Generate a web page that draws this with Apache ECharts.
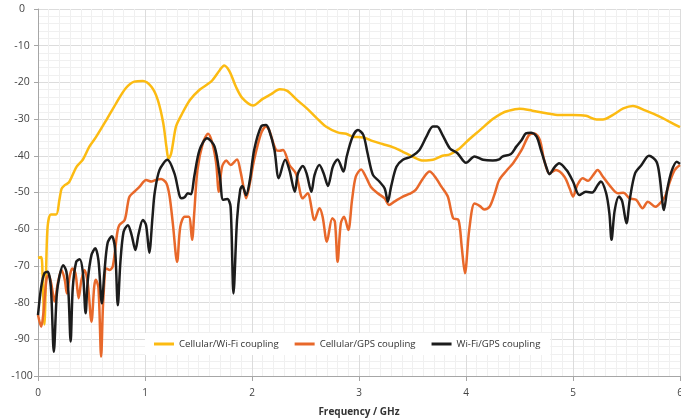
<!DOCTYPE html>
<html>
<head>
<meta charset="utf-8">
<script src="https://cdn.jsdelivr.net/npm/echarts@6/dist/echarts.min.js"></script>
<style>
  html, body { margin: 0; padding: 0; background: #fff; }
  #chart { width: 681px; height: 420px; }
</style>
</head>
<body>
<div id="chart"></div>
<script>
// Coupling curves: [frequency in GHz, level in dB]
const cellularWifi = [
  [0, -67.8], [0.03, -67.6], [0.045, -75], [0.06, -86], [0.075, -72], [0.09, -59.3], [0.12, -56],
  [0.17, -56], [0.2, -52], [0.22, -49], [0.25, -48], [0.29, -47.2], [0.36, -43], [0.42, -41],
  [0.48, -37.5], [0.54, -35], [0.64, -30.2], [0.73, -25.7], [0.82, -21.6], [0.9, -19.8],
  [0.98, -19.6], [1.06, -21.2], [1.12, -24.8], [1.17, -31], [1.2, -37.5], [1.22, -40.8],
  [1.245, -39.3], [1.29, -32], [1.34, -28.9], [1.42, -24.8], [1.51, -22], [1.59, -20.4],
  [1.63, -19.4], [1.7, -16.6], [1.74, -15.4], [1.79, -17], [1.85, -21.2], [1.91, -24.3],
  [2.01, -26.3], [2.1, -24.5], [2.18, -23.2], [2.26, -21.9], [2.33, -22.3], [2.41, -24.5],
  [2.51, -27], [2.6, -29.6], [2.69, -32], [2.8, -33.6], [2.88, -34], [2.94, -34.8], [3.04, -35],
  [3.13, -36], [3.22, -36.8], [3.32, -37.7], [3.41, -38.9], [3.5, -40.2], [3.6, -41.3],
  [3.69, -41.1], [3.78, -40], [3.85, -39.6], [3.94, -38], [4.03, -35.5], [4.13, -33], [4.25, -30],
  [4.33, -28.5], [4.39, -27.8], [4.5, -27.2], [4.62, -27.7], [4.75, -28.4], [4.87, -28.9],
  [5.0, -28.9], [5.12, -29.1], [5.22, -30.1], [5.28, -30.1], [5.37, -28.9], [5.47, -27.1],
  [5.56, -26.4], [5.68, -27.7], [5.81, -29.3], [5.9, -30.7], [6.0, -32.2]
];

const cellularGps = [
  [0, -83.4], [0.03, -86.6], [0.05, -83], [0.08, -73.5], [0.1, -72.5], [0.125, -75], [0.154, -79.7],
  [0.185, -74.7], [0.22, -71.1], [0.25, -73.8], [0.27, -77.5], [0.295, -73], [0.32, -70.7],
  [0.35, -72], [0.38, -78.8], [0.405, -74], [0.435, -71.1], [0.465, -74.7], [0.5, -85.2],
  [0.525, -75.7], [0.54, -73.8], [0.565, -76], [0.59, -94.7], [0.61, -79.3], [0.64, -70.7],
  [0.67, -71.1], [0.7, -70], [0.74, -61.1], [0.76, -58.9], [0.81, -57.5], [0.84, -52.9],
  [0.855, -51.1], [0.9, -49.8], [0.95, -48.4], [1.01, -46.6], [1.06, -47], [1.1, -46.6],
  [1.15, -46.3], [1.2, -47.5], [1.23, -51.1], [1.26, -58.4], [1.3, -68.9], [1.33, -59.3],
  [1.37, -56.6], [1.41, -56.6], [1.44, -62.9], [1.46, -55.7], [1.49, -43.9], [1.54, -36.6],
  [1.59, -34], [1.63, -36.6], [1.665, -42], [1.69, -49.8], [1.72, -43], [1.76, -41.3], [1.8, -42.5],
  [1.86, -41], [1.89, -43.9], [1.92, -48.4], [1.945, -51.6], [1.98, -47.5], [2.02, -41.1],
  [2.085, -33.9], [2.13, -32], [2.16, -33], [2.225, -38.4], [2.26, -38.6], [2.29, -38.4],
  [2.35, -42.5], [2.41, -44.8], [2.475, -51.6], [2.52, -50.2], [2.585, -57.5], [2.63, -54.3],
  [2.66, -56.6], [2.7, -63.4], [2.75, -57], [2.775, -58], [2.8, -68.9], [2.83, -58.4], [2.86, -56.6],
  [2.9, -60.2], [2.935, -52], [2.97, -45.7], [3.02, -43.7], [3.07, -46.1], [3.11, -48.4],
  [3.175, -50.2], [3.24, -51.6], [3.28, -53.4], [3.33, -52.5], [3.41, -51.1], [3.47, -50.4],
  [3.53, -49.3], [3.6, -46.1], [3.66, -44.3], [3.72, -46.1], [3.77, -48.4], [3.83, -51.1],
  [3.88, -57], [3.93, -57.5], [3.96, -64.8], [3.99, -72], [4.03, -60.2], [4.08, -53], [4.13, -53.7],
  [4.17, -54.6], [4.22, -53.9], [4.27, -50.2], [4.31, -46.6], [4.38, -44], [4.44, -42],
  [4.52, -38.4], [4.59, -34.3], [4.64, -33.9], [4.69, -35.7], [4.73, -41.1], [4.78, -44.8],
  [4.84, -43.9], [4.92, -45.7], [4.97, -49], [5.0, -51.1], [5.04, -48], [5.09, -46.1],
  [5.14, -46.8], [5.19, -45.2], [5.23, -43.9], [5.28, -45.7], [5.34, -48], [5.42, -50.2],
  [5.47, -50.1], [5.53, -51.6], [5.59, -52], [5.65, -54.3], [5.7, -52.5], [5.77, -53.9],
  [5.81, -53], [5.86, -51.1], [5.9, -47.5], [5.95, -43.9], [6.0, -42.5]
];

const wifiGps = [
  [0, -83.4], [0.03, -75.7], [0.06, -72], [0.09, -71.6], [0.12, -75.7], [0.148, -93.4],
  [0.175, -78], [0.2, -72.9], [0.235, -69.8], [0.265, -71.5], [0.285, -77.5], [0.305, -90.6],
  [0.325, -76], [0.357, -68.9], [0.39, -68.2], [0.42, -72], [0.445, -82.9], [0.465, -74],
  [0.5, -67], [0.535, -65.2], [0.565, -68.5], [0.597, -80.2], [0.62, -72], [0.65, -63.8],
  [0.69, -61.9], [0.72, -65.3], [0.746, -80.7], [0.77, -69], [0.8, -60.7], [0.84, -58.9],
  [0.875, -61.6], [0.91, -65.7], [0.94, -61.3], [0.98, -57.5], [1.01, -58.9], [1.04, -66.4],
  [1.07, -56.7], [1.09, -50.2], [1.135, -43.9], [1.21, -41.1], [1.275, -44.8], [1.34, -51.6],
  [1.37, -51.3], [1.4, -50.2], [1.43, -50.5], [1.46, -45.7], [1.51, -38.4], [1.58, -35.2],
  [1.65, -37.5], [1.7, -45.7], [1.73, -52], [1.77, -51.8], [1.8, -53.9], [1.827, -77.5],
  [1.86, -57.5], [1.89, -49.3], [1.91, -48.2], [1.945, -50.7], [1.98, -46.6], [2.02, -38.4],
  [2.085, -32], [2.13, -31.6], [2.16, -33], [2.21, -38.4], [2.25, -46.1], [2.31, -41.1],
  [2.35, -43.9], [2.4, -49.8], [2.43, -44.8], [2.475, -42.8], [2.51, -44.8], [2.555, -49.8],
  [2.585, -45.2], [2.63, -42.5], [2.67, -44.8], [2.71, -48.2], [2.755, -43], [2.8, -41],
  [2.855, -44.3], [2.885, -40.2], [2.94, -34.8], [2.99, -33], [3.04, -34.3], [3.08, -39.3],
  [3.13, -45.2], [3.19, -47], [3.24, -48.9], [3.27, -52.5], [3.3, -48.4], [3.35, -43],
  [3.41, -41.1], [3.49, -40.2], [3.565, -38.4], [3.63, -34.8], [3.69, -32], [3.73, -32],
  [3.78, -34.3], [3.85, -38], [3.92, -39.3], [4.0, -41.9], [4.08, -40.2], [4.16, -41.1],
  [4.25, -41.3], [4.31, -41], [4.34, -40.2], [4.42, -39.5], [4.47, -37.5], [4.52, -35.7],
  [4.56, -33.9], [4.61, -33.7], [4.66, -34.8], [4.7, -38.4], [4.75, -43], [4.78, -45],
  [4.83, -43], [4.87, -42], [4.94, -43.9], [5.0, -47], [5.06, -50.7], [5.12, -49.8], [5.18, -50],
  [5.23, -48], [5.26, -47], [5.31, -50.2], [5.34, -55.7], [5.36, -62.9], [5.39, -54.8],
  [5.43, -51.1], [5.46, -52.4], [5.5, -58.4], [5.53, -52], [5.58, -44.8], [5.64, -42.5],
  [5.71, -40], [5.78, -41.6], [5.81, -45.7], [5.85, -54.8], [5.88, -49.3], [5.92, -44.3],
  [5.97, -41.6], [6.0, -42.2]
];

const seriesNames = ['Cellular/Wi-Fi coupling', 'Cellular/GPS coupling', 'Wi-Fi/GPS coupling'];
const seriesColors = ['#fcbb12', '#e8682a', '#1c1c1c'];
const seriesData = [cellularWifi, cellularGps, wifiGps];

const FONT = '"Open Sans", "Noto Sans", sans-serif';

const chart = echarts.init(document.getElementById('chart'), null, { renderer: 'canvas' });

chart.setOption({
  animation: false,
  backgroundColor: '#ffffff',
  textStyle: { fontFamily: FONT },
  // plot box is pinned; let the "6" label run off the right edge like the original
  grid: { left: 38, right: 1, top: 9, bottom: 44, containLabel: false, outerBoundsMode: 'none' },
  legend: {
    left: 145,
    top: 333,
    backgroundColor: '#ffffff',
    padding: [6, 10, 6, 9],
    itemGap: 16,
    itemWidth: 20,
    itemHeight: 3,
    icon: 'rect',
    data: seriesNames,
    textStyle: { fontFamily: FONT, fontSize: 9.6, color: '#333' }
  },
  xAxis: {
    type: 'value',
    min: 0,
    max: 6,
    interval: 1,
    name: 'Frequency / GHz',
    nameLocation: 'middle',
    nameGap: 31,
    nameTextStyle: { fontFamily: FONT, fontSize: 10, fontWeight: 'bold', color: '#333' },
    axisLine: { show: true, onZero: false, lineStyle: { color: '#a6a6a6', width: 1 } },
    axisTick: { show: true, length: 5, lineStyle: { color: '#a6a6a6' } },
    axisLabel: { fontFamily: FONT, fontSize: 10, color: '#444', margin: 12 },
    splitLine: { show: true, lineStyle: { color: '#dcdcdc', width: 1 } },
    minorTick: { show: false, splitNumber: 10 },
    minorSplitLine: { show: true, lineStyle: { color: '#f0f0f0', width: 1 } }
  },
  yAxis: {
    type: 'value',
    min: -100,
    max: 0,
    interval: 10,
    axisLine: { show: true, lineStyle: { color: '#a6a6a6', width: 1 } },
    axisTick: { show: true, length: 4, lineStyle: { color: '#a6a6a6' } },
    axisLabel: { fontFamily: FONT, fontSize: 10.5, color: '#444', margin: 16, align: 'center' },
    splitLine: { show: true, lineStyle: { color: '#dcdcdc', width: 1 } },
    minorTick: { show: false, splitNumber: 5 },
    minorSplitLine: { show: true, lineStyle: { color: '#f0f0f0', width: 1 } }
  },
  series: seriesData.map((data, i) => ({
    name: seriesNames[i],
    type: 'line',
    data: data,
    symbol: 'none',
    smooth: 0.3,
    color: seriesColors[i],
    lineStyle: { color: seriesColors[i], width: 2.5 }
  }))
});
</script>
</body>
</html>
